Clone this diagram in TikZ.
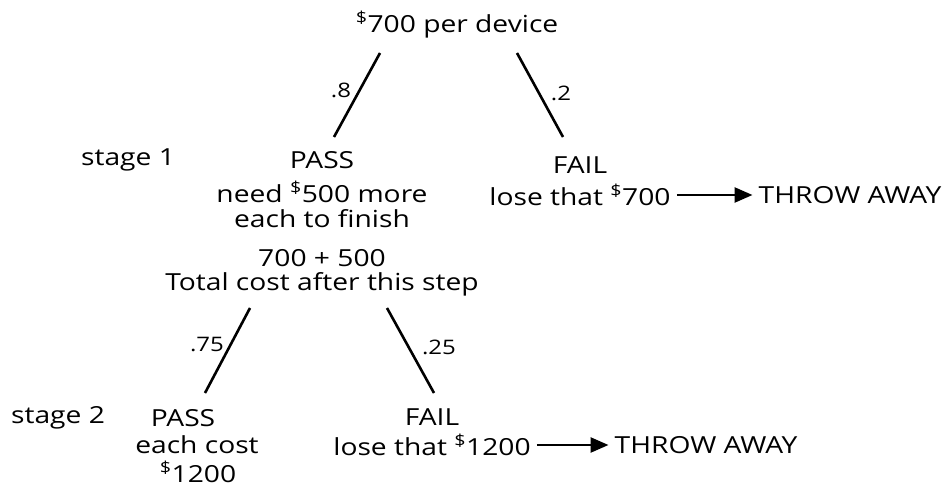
\documentclass[tikz,border=0pt]{standalone}
\usepackage{fontspec}
\setmainfont[FakeStretch=1.2]{Open Sans}
\usepackage{tikz}
\usetikzlibrary{arrows.meta}

\newcommand{\dol}{\textsuperscript{\$}}

\tikzset{
  txt/.style={font=\fontsize{23.5}{28}\selectfont, inner sep=0pt},
  prob/.style={font=\fontsize{20}{24}\selectfont, inner sep=0pt},
  branch/.style={line width=2.6pt},
  toss/.style={line width=2.6pt, -{Triangle[length=18pt,width=15pt]}}
}

\begin{document}
\begin{tikzpicture}[x=1pt,y=1pt,yscale=-1,xscale=1]
\useasboundingbox (0,0) rectangle (947,489);

% Text Node
\draw (457,25) node [txt] (root) {\dol700 per device};

% stage 1
\draw (128,160) node [txt] (stage1) {stage 1};
% Text Node
\draw (322,160) node [txt] (pass1) {PASS};
\draw (322,192) node [txt] (need1) {need \dol500 more};
\draw (322,219) node [txt] (each1) {each to finish};
% Text Node
\draw (580,165) node [txt] (fail1) {FAIL};
\draw (580,195) node [txt] (lose1) {lose that \dol700};
\draw (850,195) node [txt] (throw1) {THROW AWAY};

% Text Node
\draw (322,258) node [txt] (sum1) {700 + 500};
\draw (322,284) node [txt] (cost1) {Total cost after this step};

% stage 2
\draw (58,418) node [txt] (stage2) {stage 2};
% Text Node
\draw (183,418) node [txt] (pass2) {PASS};
\draw (197,445) node [txt] (each2) {each cost};
\draw (198,472) node [txt] (cost2) {\dol1200};
% Text Node
\draw (432,417) node [txt] (fail2) {FAIL};
\draw (432,445) node [txt] (lose2) {lose that \dol1200};
\draw (706,445) node [txt] (throw2) {THROW AWAY};

% branch ends
\coordinate (r1a) at (380,53);  \coordinate (r1b) at (334,137);
\coordinate (r2a) at (517,53);  \coordinate (r2b) at (563,137);
\coordinate (c1a) at (250,308); \coordinate (c1b) at (205,393);
\coordinate (c2a) at (387,308); \coordinate (c2b) at (434,393);

%Straight Lines
\draw [branch] (r1a) -- (r1b);
\draw [branch] (r2a) -- (r2b);
\draw [branch] (c1a) -- (c1b);
\draw [branch] (c2a) -- (c2b);

% Text Node
\draw (341,90) node [prob] (p08) {.8};
\draw (561,93) node [prob] (p02) {.2};
\draw (207,345) node [prob] (p075) {.75};
\draw (439,347) node [prob] (p025) {.25};

%Arrows
\draw [toss] ([xshift=6pt]lose1.east) -- ([xshift=-6pt]throw1.west);
\draw [toss] ([xshift=6pt]lose2.east) -- ([xshift=-6pt]throw2.west);

\end{tikzpicture}
\end{document}
